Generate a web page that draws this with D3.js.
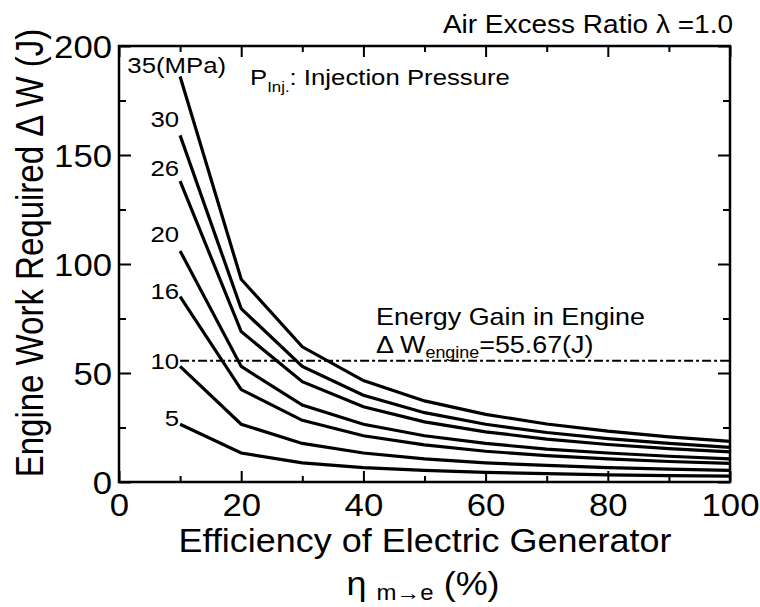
<!DOCTYPE html>
<html>
<head>
<meta charset="utf-8">
<script src="https://cdn.jsdelivr.net/npm/d3@7"></script>
<style>
body{margin:0;background:#fff;}
text{font-family:"Liberation Sans",Arial,sans-serif;fill:#000;}
.tick line{stroke:#000;stroke-width:2;}
</style>
</head>
<body>
<div id="canvas" class="canvas"></div>
<script>
// data
var efficiency = [10,20,30,40,50,60,70,80,90,100];
var pressures = ['5','10','16','20','26','30','35(MPa)'];
var work5  = [26.5,13.3,8.8,6.6,5.3,4.4,3.8,3.3,2.9,2.7];
var work10 = [53,26.5,17.7,13.3,10.6,8.8,7.6,6.6,5.9,5.3];
var work16 = [85,42.4,28.3,21.2,17.0,14.1,12.1,10.6,9.4,8.5];
var work20 = [106,53,35.3,26.5,21.2,17.7,15.1,13.3,11.8,10.6];
var work26 = [138,69,46,34.5,27.6,23,19.7,17.2,15.3,13.8];
var work30 = [159,79.5,53,39.8,31.8,26.5,22.7,19.9,17.7,15.9];
var work35 = [186,93,62,46.5,37.2,31,26.6,23.3,20.7,18.6];
var energyGain = 55.67;
var xMajor = [0,20,40,60,80,100], xMinor = [10,30,50,70,90];
var yMajor = [0,50,100,150,200], yMinor = [25,75,125,175];

//margin convention
var m = {t:46,r:30,b:125,l:119};
var outerWidth = 760, outerHeight = 607;
var w = outerWidth - m.l - m.r,
    h = outerHeight - m.t - m.b;
var SX = 1.12; // glyphs in the picture are a bit wider than Arial

var svg = d3.select('.canvas')
    .append('svg')
    .attr('width',outerWidth)
    .attr('height',outerHeight);
var plot = svg.append('g')
    .attr('transform','translate(' + m.l + ',' + m.t + ')');

var scaleX = d3.scaleLinear().domain([0,100]).range([0,w]);
var scaleY = d3.scaleLinear().domain([0,200]).range([h,0]);

function tickAxis(axis, tr){
    var g = plot.append('g').attr('transform',tr).call(axis);
    g.select('.domain').remove();
    return g;
}

// ticks on all four sides, pointing inward
var bottom = tickAxis(d3.axisBottom(scaleX).tickValues(xMajor).tickSizeInner(-11).tickSizeOuter(0), 'translate(0,'+h+')');
tickAxis(d3.axisBottom(scaleX).tickValues(xMinor).tickSizeInner(-6).tickSizeOuter(0).tickFormat(''), 'translate(0,'+h+')');
tickAxis(d3.axisTop(scaleX).tickValues(xMajor).tickSizeInner(-11).tickSizeOuter(0).tickFormat(''), 'translate(0,0)');
tickAxis(d3.axisTop(scaleX).tickValues(xMinor).tickSizeInner(-6).tickSizeOuter(0).tickFormat(''), 'translate(0,0)');
var left = tickAxis(d3.axisLeft(scaleY).tickValues(yMajor).tickSizeInner(-12).tickSizeOuter(0), 'translate(0,0)');
tickAxis(d3.axisLeft(scaleY).tickValues(yMinor).tickSizeInner(-7).tickSizeOuter(0).tickFormat(''), 'translate(0,0)');
tickAxis(d3.axisRight(scaleY).tickValues(yMajor).tickSizeInner(-12).tickSizeOuter(0).tickFormat(''), 'translate('+w+',0)');
tickAxis(d3.axisRight(scaleY).tickValues(yMinor).tickSizeInner(-7).tickSizeOuter(0).tickFormat(''), 'translate('+w+',0)');

bottom.selectAll('text')
    .attr('y',null).attr('dy',null)
    .attr('text-anchor','middle')
    .style('font-size','31px')
    .attr('transform','translate(0,34) scale('+SX+',1)');
left.selectAll('text')
    .attr('x',null).attr('dy',null)
    .attr('text-anchor','end')
    .style('font-size','31px')
    .attr('transform','translate(-7,11) scale('+SX+',1)');

plot.append('rect')
    .attr('width',w).attr('height',h)
    .attr('fill','none').attr('stroke','#000').attr('stroke-width',2.5);

// curves
var series = [work5,work10,work16,work20,work26,work30,work35];
var line = d3.line()
    .x(function(d,i){return scaleX(efficiency[i]);})
    .y(function(d){return scaleY(d);});

plot.selectAll('.curve')
    .data(series)
    .enter()
    .append('path')
    .attr('class','curve')
    .attr('d',line)
    .attr('fill','none')
    .attr('stroke','#000')
    .attr('stroke-width',3.2);

// pressure labels next to first points
var labelShift = [[0,2],[0,3],[0,2],[0,-9],[0,-5],[0,-8],[47,-4]];
plot.selectAll('.plabel')
    .data(series)
    .enter()
    .append('text')
    .attr('class','plabel')
    .attr('text-anchor','end')
    .style('font-size','23px')
    .attr('transform',function(d,i){
        return 'translate('+(scaleX(efficiency[0])-1+labelShift[i][0])+','+(scaleY(d[0])+labelShift[i][1])+') scale('+SX+',1)';
    })
    .text(function(d,i){return pressures[i];});

// energy gain line
plot.append('line')
    .attr('x1',scaleX(efficiency[0])).attr('x2',scaleX(100))
    .attr('y1',scaleY(energyGain)).attr('y2',scaleY(energyGain))
    .attr('stroke','#000').attr('stroke-width',2)
    .attr('stroke-dasharray','9,3,3,3');

var eg = plot.append('text')
    .style('font-size','24px')
    .attr('transform','translate('+(scaleX(42)+0.5)+','+(scaleY(energyGain)-36)+') scale('+SX+',1)');
eg.append('tspan').attr('x',0).text('Energy Gain in Engine');
var eg2 = plot.append('text')
    .style('font-size','24px')
    .attr('transform','translate('+(scaleX(42)+0.5)+','+(scaleY(energyGain)-8)+') scale('+SX+',1)');
eg2.append('tspan').text('Δ W');
eg2.append('tspan').style('font-size','16px').attr('dy',5).text('engine');
eg2.append('tspan').attr('dy',-5).text('=' + energyGain + '(J)');

// legend note
var note = svg.append('text')
    .style('font-size','23px')
    .attr('transform','translate(250,85) scale('+SX+',1)');
note.append('tspan').text('P');
note.append('tspan').style('font-size','15px').attr('dy',7).text('Inj.');
note.append('tspan').attr('dy',-7).text(': Injection Pressure');

svg.append('text')
    .attr('text-anchor','end')
    .style('font-size','25px')
    .attr('transform','translate(733,33) scale('+SX+',1)')
    .text('Air Excess Ratio λ =1.0');

// axis titles
svg.append('text')
    .attr('text-anchor','middle')
    .style('font-size','33px')
    .attr('transform','translate(425,552) scale(1.09,1)')
    .text('Efficiency of Electric Generator');
var xt2 = svg.append('text')
    .attr('text-anchor','middle')
    .style('font-size','33px')
    .attr('transform','translate(423,595) scale(1.09,1)');
xt2.append('tspan').text('η ');
xt2.append('tspan').style('font-size','22px').attr('dy',5).text('m→e');
xt2.append('tspan').attr('dy',-5).text(' (%)');

svg.append('text')
    .attr('text-anchor','middle')
    .style('font-size','33px')
    .attr('transform','translate(43,253) scale(1.17,1) rotate(-90)')
    .text('Engine Work Required Δ W (J)');
</script>
</body>
</html>
